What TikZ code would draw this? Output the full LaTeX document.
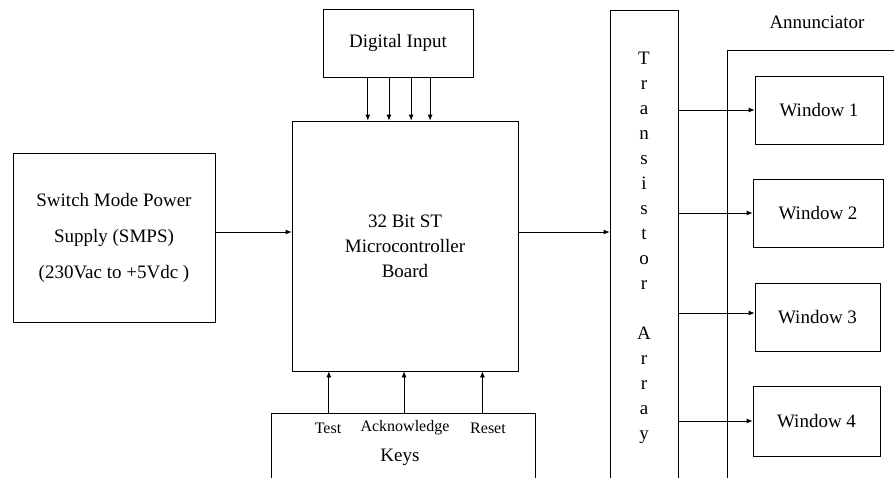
\documentclass[tikz,border=0pt]{standalone}
\usepackage{fontspec}
\setmainfont{Liberation Serif}
\newfontfamily\tnr{Liberation Serif}
\usetikzlibrary{arrows.meta,calc}
\begin{document}
\begin{tikzpicture}[x=1pt,y=-1pt,
  box/.style={draw=black,line width=0.8pt,inner sep=0pt,align=center,font=\tnr\fontsize{19}{25}\selectfont},
  arr/.style={line width=0.8pt,-{Latex[length=6pt,width=5pt]}},
  small/.style={font=\tnr\fontsize{16}{18}\selectfont,inner sep=0pt},
  big/.style={font=\tnr\fontsize{19}{22}\selectfont,inner sep=0pt}]
\clip (0,0) rectangle (894,477);
% boxes
\node[box,minimum width=150pt,minimum height=68pt] (DI) at (398,43) {Digital Input};
\node[box,minimum width=226pt,minimum height=250pt] (M) at (405,246) {32 Bit ST\\Microcontroller\\Board};
\node[box,minimum width=202pt,minimum height=169pt,font=\tnr\fontsize{19}{36}\selectfont] (S) at (114,237.5) {Switch Mode Power\\Supply (SMPS)\\(230Vac to +5Vdc )};
\node[box,minimum width=264pt,minimum height=107pt] (K) at (403,466.5) {};
\node[box,minimum width=68pt,minimum height=510pt] (T) at (644,265) {};
\node[box,minimum width=173pt,minimum height=470pt] (A) at (813.5,285) {};
\node[box,minimum width=128pt,minimum height=68pt] (W1) at (819,110) {Window 1};
\node[box,minimum width=130pt,minimum height=68pt] (W2) at (818,213) {Window 2};
\node[box,minimum width=125pt,minimum height=68pt] (W3) at (817.5,317) {Window 3};
\node[box,minimum width=127pt,minimum height=70pt] (W4) at (816.5,421) {Window 4};
% labels
\node[big] (ann) at (817,22) {Annunciator};
\node[big,align=center,font=\tnr\fontsize{19}{25}\selectfont] (tt) at (644,247.5) {T\\r\\a\\n\\s\\i\\s\\t\\o\\r\\[25pt]A\\r\\r\\a\\y};
\node[small] (kt) at (328,428) {Test};
\node[small] (ka) at (405,428) {Acknowledge};
\node[small] (kr) at (488,428) {Reset};
\node[big] (kk) at (400,457) {Keys};
% connectors
\foreach \f in {0.30,0.44,0.587,0.713}
  \draw[arr] ($(DI.south west)!\f!(DI.south east)$) coordinate (p) -- (p |- M.north);
\foreach \f in {0.22,0.504,0.80}
  \draw[arr] ($(K.north west)!\f!(K.north east)$) coordinate (q) -- (q |- M.south);
\draw[arr] ([yshift=5.5pt]S.east) coordinate (a) -- (a -| M.west);
\draw[arr] ([yshift=14pt]M.east) coordinate (b) -- (b -| T.west);
\draw[arr] (W1.west -| T.east) -- (W1.west);
\draw[arr] (W2.west -| T.east) -- (W2.west);
\draw[arr] ([yshift=4pt]W3.west) coordinate (c) (c -| T.east) -- (c);
\draw[arr] (W4.west -| T.east) -- (W4.west);
\end{tikzpicture}
\end{document}
